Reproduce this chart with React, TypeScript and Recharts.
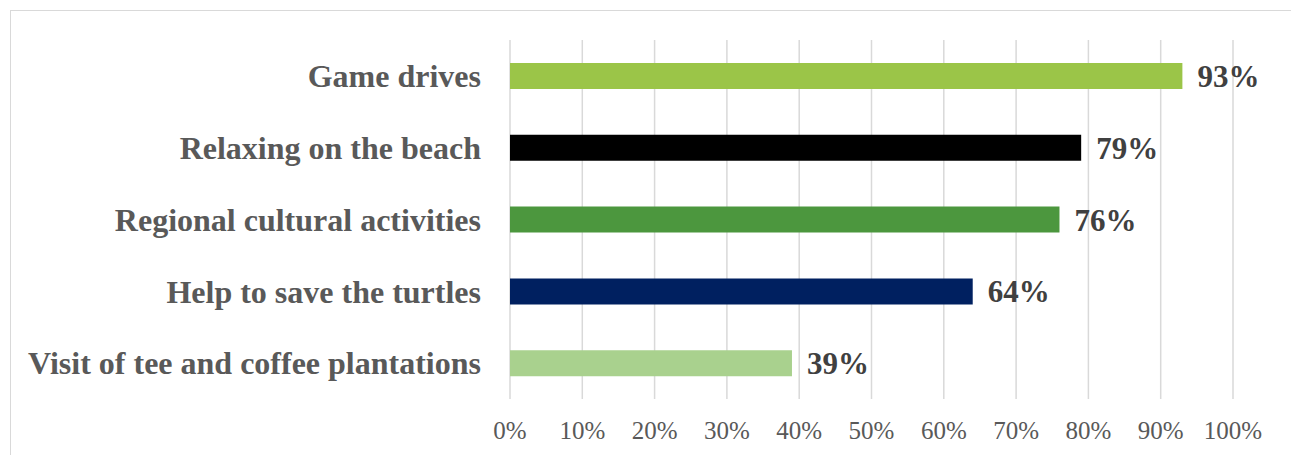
import React from "react";
import { BarChart, Bar, XAxis, YAxis, CartesianGrid, LabelList, Cell } from "recharts";

const categories = [
  "Game drives",
  "Relaxing on the beach",
  "Regional cultural activities",
  "Help to save the turtles",
  "Visit of tee and coffee plantations",
];
const values = [93, 79, 76, 64, 39];
const barColors = ["#9BC548", "#000000", "#4C973E", "#002060", "#A9D18E"];
const xTicks = [0, 10, 20, 30, 40, 50, 60, 70, 80, 90, 100];

const data = categories.map((name, i) => ({ name, value: values[i] }));

const FONT = "'Liberation Serif', 'Times New Roman', serif";

export default function App() {
  return (
    <div style={{ position: "absolute", left: 0, top: 0, width: 1291, height: 455, overflow: "hidden", background: "#fff" }}>
      <div
        style={{
          position: "absolute",
          left: 10,
          top: 10,
          width: 1300,
          height: 500,
          border: "1.5px solid #D9D9D9",
          boxSizing: "border-box",
        }}
      />
      <div style={{ position: "absolute", left: 0, top: 0 }}>
        <BarChart
          width={1291}
          height={455}
          data={data}
          layout="vertical"
          margin={{ top: 40, right: 58, bottom: 0, left: 0 }}
          barCategoryGap={23}
        >
          <CartesianGrid horizontal={false} stroke="#D9D9D9" strokeWidth={1.5} />
          <XAxis
            type="number"
            domain={[0, 100]}
            ticks={xTicks}
            tickFormatter={(v) => `${v}%`}
            axisLine={false}
            tickLine={false}
            tickSize={0}
            tickMargin={22}
            height={56}
            interval={0}
            tick={{ fill: "#595959", fontSize: 25, fontFamily: FONT }}
          />
          <YAxis
            type="category"
            dataKey="name"
            width={510}
            axisLine={false}
            tickLine={false}
            tickSize={0}
            tickMargin={29}
            interval={0}
            tick={{ fill: "#595959", fontSize: 32, fontFamily: FONT, fontWeight: "bold" }}
          />
          <Bar dataKey="value" barSize={26} isAnimationActive={false}>
            {data.map((d, i) => (
              <Cell key={d.name} fill={barColors[i]} />
            ))}
            <LabelList
              dataKey="value"
              position="right"
              offset={15}
              formatter={(v) => `${v}%`}
              style={{ fill: "#404040", fontSize: 31, fontFamily: FONT, fontWeight: "bold" }}
            />
          </Bar>
        </BarChart>
      </div>
    </div>
  );
}
